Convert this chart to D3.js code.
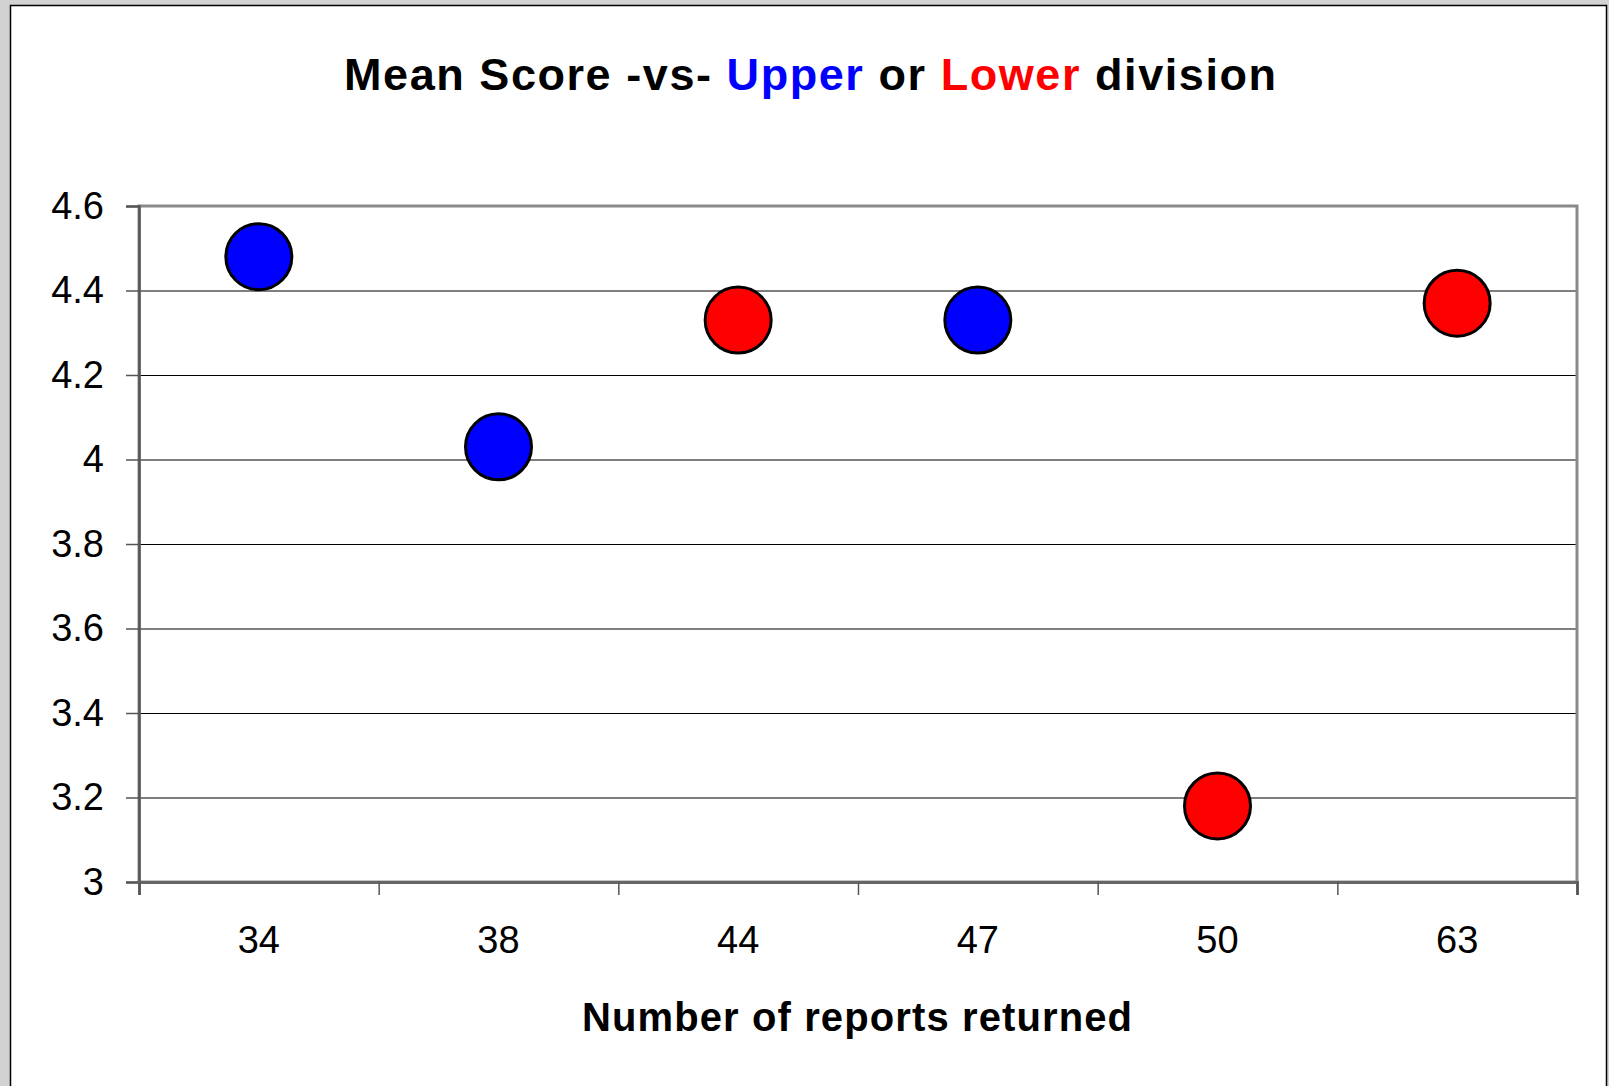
<!DOCTYPE html>
<html>
<head>
<meta charset="utf-8">
<script src="https://cdn.jsdelivr.net/npm/d3@7"></script>
<style>
  html, body { margin: 0; padding: 0; background: #d2d2d2; }
  svg { display: block; }
</style>
</head>
<body>
<script>
// chart values
var categories = ["34", "38", "44", "47", "50", "63"];
var meanScore = [4.48, 4.03, 4.33, 4.33, 3.18, 4.37];
var division = ["Upper", "Upper", "Lower", "Upper", "Lower", "Lower"];
var yTicks = [3, 3.2, 3.4, 3.6, 3.8, 4, 4.2, 4.4, 4.6];
var titleParts = [
  { text: "Mean Score -vs- ", color: "#000" },
  { text: "Upper", color: "#0000ff" },
  { text: " or ", color: "#000" },
  { text: "Lower", color: "#ff0000" },
  { text: " division", color: "#000" }
];
var divisionColor = { Upper: "#0000ff", Lower: "#ff0000" };

var width = 1609, height = 1086;
var margin = { top: 206, right: 32, bottom: 204, left: 139 };
var plotW = width - margin.left - margin.right;
var plotH = height - margin.top - margin.bottom;
var font = "Arial, 'Liberation Sans', sans-serif";

var svg = d3.select("body").append("svg")
    .attr("width", width)
    .attr("height", height);

// grey backdrop and white chart panel
svg.append("rect")
    .attr("width", width).attr("height", height)
    .attr("fill", "#d2d2d2");
svg.append("rect")
    .attr("x", 10.5).attr("y", 5.5)
    .attr("width", 1596).attr("height", 1100)
    .attr("fill", "#fff")
    .attr("stroke", "#000")
    .attr("stroke-width", 1.5);

var g = svg.append("g")
    .attr("transform", `translate(${margin.left},${margin.top})`);

var xBand = d3.scaleBand().domain(categories).range([0, plotW]).padding(0);
var xEdge = d3.scaleLinear().domain([0, categories.length]).range([0, plotW]);
var y = d3.scaleLinear().domain([3, 4.6]).range([plotH, 0]);

// gridlines
g.append("g")
    .attr("class", "grid")
    .call(d3.axisLeft(y).tickValues(yTicks).tickSize(-plotW).tickFormat(""))
    .call(s => s.select(".domain").remove())
    .call(s => s.selectAll("line").attr("stroke", "#000").attr("stroke-width", 1.2));

// plot frame
g.append("rect")
    .attr("width", plotW).attr("height", plotH)
    .attr("fill", "none")
    .attr("stroke", "#8a8a8a")
    .attr("stroke-width", 3);

// y axis
var yAxis = g.append("g")
    .call(d3.axisLeft(y).tickValues(yTicks).tickSize(13).tickPadding(22).tickFormat(d => String(d)));
yAxis.select(".domain").attr("stroke", "#555").attr("stroke-width", 2.5);
yAxis.selectAll(".tick line").attr("stroke", "#555").attr("stroke-width", 1.5);
yAxis.selectAll("text")
    .attr("font-family", font)
    .attr("font-size", 38)
    .attr("fill", "#000");

// x axis: ticks on category boundaries, labels at band centres
var xTickAxis = g.append("g")
    .attr("transform", `translate(0,${plotH})`)
    .call(d3.axisBottom(xEdge).tickValues(d3.range(categories.length + 1)).tickSize(13).tickFormat(""));
xTickAxis.select(".domain").attr("stroke", "#666").attr("stroke-width", 3);
xTickAxis.selectAll(".tick line").attr("stroke", "#555").attr("stroke-width", 1.5);

var xLabelAxis = g.append("g")
    .attr("transform", `translate(0,${plotH})`)
    .call(d3.axisBottom(xBand).tickSize(0).tickPadding(44));
xLabelAxis.select(".domain").remove();
xLabelAxis.selectAll("text")
    .attr("font-family", font)
    .attr("font-size", 38)
    .attr("fill", "#000");

// markers
g.selectAll(".dot")
    .data(categories)
    .join("circle")
    .attr("class", "dot")
    .attr("cx", d => xBand(d) + xBand.bandwidth() / 2)
    .attr("cy", (d, i) => y(meanScore[i]))
    .attr("r", 33)
    .attr("fill", (d, i) => divisionColor[division[i]])
    .attr("stroke", "#000")
    .attr("stroke-width", 3);

// spread the letters of a text so it spans the wanted width
function spreadTo(sel, target) {
    var node = sel.node();
    var natural = node.getComputedTextLength();
    var n = node.textContent.length;
    sel.attr("letter-spacing", Math.max(0, (target - natural) / (n - 1)));
}

// title
var title = svg.append("text")
    .attr("x", 344)
    .attr("y", 90)
    .attr("font-family", font)
    .attr("font-weight", "bold")
    .attr("font-size", 45)
    .style("white-space", "pre");
title.selectAll("tspan")
    .data(titleParts)
    .join("tspan")
    .attr("fill", d => d.color)
    .text(d => d.text);
spreadTo(title, 932);

// x axis title
var xTitle = svg.append("text")
    .attr("x", 582)
    .attr("y", 1031)
    .attr("font-family", font)
    .attr("font-weight", "bold")
    .attr("font-size", 40)
    .attr("fill", "#000")
    .text("Number of reports returned");
spreadTo(xTitle, 550);
</script>
</body>
</html>
